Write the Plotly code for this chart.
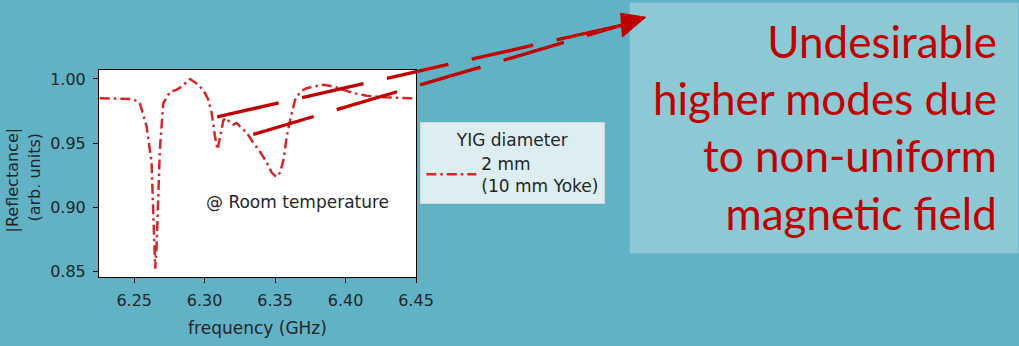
import plotly.graph_objects as go

# ---- data ----
freq_ghz = [6.2256, 6.232, 6.238, 6.244, 6.2493, 6.254, 6.2588, 6.2623, 6.264, 6.2649,
            6.2659, 6.267, 6.2682, 6.2706, 6.2754, 6.28, 6.2836, 6.2896, 6.294, 6.299,
            6.3026, 6.305, 6.3073, 6.3092, 6.3109, 6.3133, 6.3156, 6.318, 6.3204, 6.3227,
            6.325, 6.3299, 6.3346, 6.339, 6.344, 6.3476, 6.3507, 6.3536, 6.356, 6.3583,
            6.3607, 6.3642, 6.3678, 6.3725, 6.3796, 6.3844, 6.3915, 6.3986, 6.4057, 6.4152,
            6.427, 6.4389, 6.4495]
reflectance = [0.985, 0.9848, 0.9846, 0.9845, 0.9843, 0.981, 0.963, 0.935, 0.886, 0.852,
               0.870, 0.912, 0.945, 0.981, 0.990, 0.9915, 0.994, 1.000, 0.9966, 0.9915,
               0.9838, 0.9735, 0.9554, 0.945, 0.955, 0.968, 0.9696, 0.9657, 0.9644, 0.9657,
               0.963, 0.958, 0.950, 0.9438, 0.935, 0.927, 0.9237, 0.927, 0.9374, 0.9554,
               0.968, 0.9838, 0.990, 0.9928, 0.9946, 0.9954, 0.994, 0.9915, 0.989, 0.9869,
               0.9858, 0.9853, 0.985]
x_ticks = [6.25, 6.30, 6.35, 6.40, 6.45]
x_tick_labels = ["6.25", "6.30", "6.35", "6.40", "6.45"]
y_ticks = [0.85, 0.90, 0.95, 1.00]
y_tick_labels = ["0.85", "0.90", "0.95", "1.00"]
series_name = "2 mm<br>(10 mm Yoke)"
legend_title = "YIG diameter"
note_text = "@ Room temperature"
callout_text = "Undesirable<br>higher modes due<br>to non-uniform<br>magnetic field"

# ---- layout geometry (pixels) ----
W, H = 1019, 346
PL, PR, PT, PB = 99.3, 415.7, 70.0, 279.0
BG = "#62B2C6"
TXT = "#1e262b"
DARKRED = "#C00000"
FONT = "DejaVu Sans"


def px(x):
    return (x - PL) / (PR - PL)


def py(y):
    return (PB - y) / (PB - PT)


fig = go.Figure()
fig.add_trace(go.Scatter(
    x=freq_ghz, y=reflectance, mode="lines", name=series_name,
    line=dict(color="#d62728", width=2.5, dash="10px,4px,2.5px,4px"),
))

shapes = []
# callout box
shapes.append(dict(type="rect", xref="paper", yref="paper",
                   x0=px(629), x1=px(1017), y0=py(255), y1=py(2),
                   fillcolor="#8DC8D5", line=dict(width=0), layer="below"))
# dashed arrow lines
for (sx, sy), (ex, ey) in [((217.3, 117.3), (622, 24.5)), ((253.3, 135.0), (622, 24.5))]:
    shapes.append(dict(type="line", xref="paper", yref="paper",
                       x0=px(sx), y0=py(sy), x1=px(ex), y1=py(ey),
                       line=dict(color=DARKRED, width=3.3, dash="63px,24px")))
# arrowhead
tri = [(645, 16.7), (620, 12.7), (621.7, 36.7)]
path = "M {} {} L {} {} L {} {} Z".format(*[v for p in tri for v in (px(p[0]), py(p[1]))])
shapes.append(dict(type="path", xref="paper", yref="paper", path=path,
                   fillcolor=DARKRED, line=dict(color=DARKRED, width=1)))

annotations = [
    dict(text=note_text, xref="paper", yref="paper", x=px(297.5), y=py(203),
         showarrow=False, font=dict(family=FONT, size=17, color=TXT),
         xanchor="center", yanchor="middle"),
    dict(text="|Reflectance|", xref="paper", yref="paper", x=px(13), y=py(181),
         showarrow=False, textangle=-90, font=dict(family=FONT, size=16, color=TXT),
         xanchor="center", yanchor="middle"),
    dict(text="(arb. units)", xref="paper", yref="paper", x=px(35), y=py(178),
         showarrow=False, textangle=-90, font=dict(family=FONT, size=16, color=TXT),
         xanchor="center", yanchor="middle"),
    dict(text=callout_text, xref="paper", yref="paper", x=px(998), y=py(128),
         showarrow=False, align="right", xanchor="right", yanchor="middle",
         font=dict(family="Lato", size=44, color=DARKRED)),
]

fig.update_layout(
    width=W, height=H,
    margin=dict(l=PL, r=W - PR, t=PT, b=H - PB, pad=0),
    paper_bgcolor=BG, plot_bgcolor="white",
    font=dict(family=FONT, size=16, color=TXT),
    showlegend=True,
    legend=dict(x=px(420), y=py(123), xanchor="left", yanchor="top",
                bgcolor="#DDEEF1", bordercolor="#c9d6da", borderwidth=1,
                tracegroupgap=0, itemwidth=50,
                title=dict(text=legend_title, side="top center",
                           font=dict(family=FONT, size=17, color=TXT)),
                font=dict(family=FONT, size=17, color=TXT)),
    shapes=shapes, annotations=annotations,
    xaxis=dict(range=[6.225, 6.45], tickvals=x_ticks, ticktext=x_tick_labels,
               showgrid=False, zeroline=False, showline=True, mirror=True,
               linecolor="black", linewidth=1, ticks="outside", ticklen=5,
               tickcolor="black", ticklabelstandoff=4,
               tickfont=dict(family=FONT, size=16, color=TXT),
               title=dict(text="frequency (GHz)", font=dict(family=FONT, size=17, color=TXT),
                          standoff=12)),
    yaxis=dict(range=[0.8456, 1.007], tickvals=y_ticks, ticktext=y_tick_labels,
               showgrid=False, zeroline=False, showline=True, mirror=True,
               linecolor="black", linewidth=1, ticks="outside", ticklen=5,
               tickcolor="black", ticklabelstandoff=4,
               tickfont=dict(family=FONT, size=16, color=TXT)),
)

fig.write_html(
    "out.html",
    config={"displayModeBar": False},
    post_script="document.body.style.margin='0';document.body.style.background='%s';" % BG,
)
